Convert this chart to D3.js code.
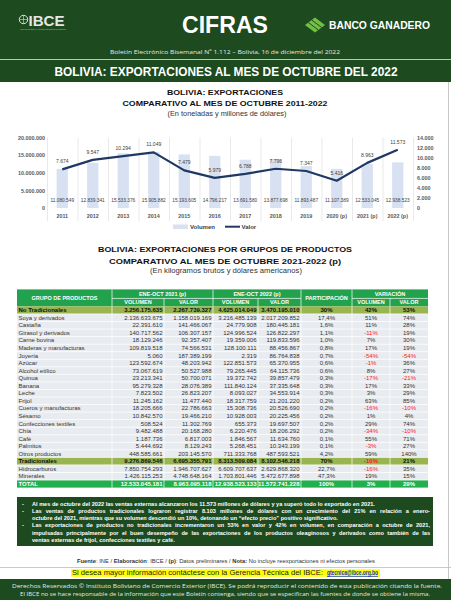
<!DOCTYPE html>
<html><head><meta charset="utf-8">
<script src="https://cdn.jsdelivr.net/npm/d3@7"></script>
<style>
html,body{margin:0;padding:0;background:#fff;}
svg{display:block;font-family:"Liberation Sans",Arial,sans-serif;}
</style></head><body>
<svg id="page" width="451" height="600"></svg>
<script>
// ---------- Chart data ----------
const years = ["2011","2012","2013","2014","2015","2016","2017","2018","2019","2020 (p)","2021 (p)","2022 (p)"];
const volumen = [11080549, 12839341, 15533376, 15905882, 15193605, 14796217, 13691580, 13877698, 11893487, 11107389, 12533045, 12938523];
const valor = [7674, 9547, 10294, 11049, 7479, 5979, 6788, 7796, 7347, 5416, 8963, 11573];
const leftTicks = [0, 5000000, 10000000, 15000000, 20000000];
const rightTicks = [0, 2000, 4000, 6000, 8000, 10000, 12000, 14000];

// ---------- Table data ----------
const productos = ["No Tradicionales","Soya y derivados","Castaña","Girasol y derivados","Carne bovina","Maderas y manufacturas","Joyería","Azúcar","Alcohol etílico","Quinua","Banana","Leche","Frijol","Cueros y manufacturas","Sésamo","Confecciones textiles","Chía","Café","Palmitos","Otros productos","Tradicionales","Hidrocarburos","Minerales","TOTAL"];
const rowType = ["grp","item","item","item","item","item","item","item","item","item","item","item","item","item","item","item","item","item","item","item","grp","item","item","total"];
const vol2021 = [3256175635, 2136633675, 22391610, 140717562, 18129246, 109819518, 5060, 123592674, 73067619, 23213341, 95279328, 7823502, 11245162, 18205666, 10842570, 508524, 9482488, 1187736, 5444692, 448585661, 9276869546, 7850754293, 1426115253, 12533045181];
const val2021 = [2267739327, 1158019169, 141466067, 106307157, 92357407, 74566531, 187389199, 48203942, 50527988, 50700071, 28076389, 26823207, 11477440, 22786663, 19466210, 11302769, 20168280, 6817003, 8129243, 203145570, 6695355791, 1946707627, 4748648164, 8963095118];
const vol2022 = [4625014049, 3216485139, 24779908, 124996524, 19359006, 128100111, 2319, 122851573, 79265445, 19372742, 111840124, 8093027, 18317759, 15308736, 10928003, 655373, 6220476, 1846567, 5268451, 711333768, 8313509084, 6609707637, 1703801446, 12938523133];
const val2022 = [3470195010, 2017209852, 180445181, 126822297, 119833596, 88456867, 86764838, 65370955, 64115736, 39857479, 37335648, 34553914, 21201220, 20526690, 20225456, 19697507, 18206292, 11634760, 10343199, 487593521, 8102546218, 2629868320, 5472677898, 11572741228];
const participacion = [30, 17.4, 1.6, 1.1, 1.0, 0.8, 0.7, 0.6, 0.6, 0.3, 0.3, 0.3, 0.2, 0.2, 0.2, 0.2, 0.2, 0.1, 0.1, 4.2, 70, 22.7, 47.3, 100];
const varVol = [42, 51, 11, -11, 7, 17, -54, -1, 8, -17, 17, 3, 63, -16, 1, 29, -34, 55, -3, 59, -10, -16, 19, 3];
const varVal = [53, 74, 28, 19, 30, 19, -54, 36, 27, -21, 33, 29, 85, -10, 4, 74, -10, 71, 27, 140, 21, 35, 15, 29];

const notes = [
  ["Al mes de octubre del 2022 las ventas externas alcanzaron los 11.573 millones de dólares y ya superó todo lo exportado en 2021."],
  ["Las ventas de productos tradicionales lograron registrar 8.103 millones de dólares con un crecimiento del 21% en relación a enero-",
   "octubre del 2021, mientras que su volumen descendió un 10%, detonando un “efecto precio” positivo significativo."],
  ["Las exportaciones de productos no tradicionales incrementaron un 53% en valor y 42% en volumen, en comparación a octubre de 2021,",
   "impulsadas principalmente por el buen desempeño de las exportaciones de los productos oleaginosos y derivados como también de las",
   "ventas externas de frijol, confecciones textiles y café."]
];

// ---------- Drawing ----------
const loc = d3.formatLocale({decimal: ",", thousands: ".", grouping: [3], currency: ["", ""]});
const fmt = loc.format(",");
const fmt1 = loc.format(",.1f");
const svg = d3.select("#page");
const darkGreen = "#1d4a1f";

function t(parent, x, y, s, o = {}) {
  const e = parent.append("text").attr("x", x).attr("y", y).text(s);
  if (o.size) e.style("font-size", o.size + "px");
  if (o.bold) e.style("font-weight", "bold");
  e.attr("fill", o.fill || "#222");
  if (o.anchor) e.attr("text-anchor", o.anchor);
  if (o.len) e.attr("textLength", o.len).attr("lengthAdjust", "spacingAndGlyphs");
  if (o.family) e.style("font-family", o.family);
  return e;
}

// Header
svg.append("rect").attr("x", 0).attr("y", 0).attr("width", 451).attr("height", 82).attr("fill", darkGreen);
const lg = svg.append("g");
lg.append("circle").attr("cx", 23.5).attr("cy", 19.5).attr("r", 4.2).attr("fill", "none").attr("stroke", "#ddd").attr("stroke-width", 1);
lg.append("path").attr("d", "M19.5 19.5 H27.5 M23.5 15.3 V23.7").attr("stroke", "#ddd").attr("stroke-width", 0.6);
t(lg, 28.5, 26, "IBCE", {size: 15, bold: true, fill: "#e6e6e6", len: 36});
t(lg, 20, 29.6, "INSTITUTO BOLIVIANO DE COMERCIO EXTERIOR", {size: 2, fill: "#bbb", len: 46});
t(svg, 225, 33, "CIFRAS", {size: 23, bold: true, fill: "#fff", anchor: "middle", len: 86});
const bg = svg.append("g");
bg.append("path").attr("d", "M305 25 L315 17.5 L325 25 L315 32.5 Z").attr("fill", "#72bf44");
bg.append("path").attr("d", "M308.3 22.5 L318.3 30 M311.7 20 L321.7 27.5").attr("stroke", darkGreen).attr("stroke-width", 1);
t(bg, 329, 29, "BANCO GANADERO", {size: 10.5, bold: true, fill: "#fff", len: 101});
t(svg, 225, 53.5, "Boletín Electrónico Bisemanal Nº 1.112 – Bolivia, 16 de diciembre del 2022", {size: 6, fill: "#e8e8e8", anchor: "middle", len: 230, family: "'Open Sans',sans-serif"});
svg.append("line").attr("x1", 0).attr("x2", 451).attr("y1", 59.5).attr("y2", 59.5).attr("stroke", "#b9c9b4").attr("stroke-width", 1);
t(svg, 226, 76, "BOLIVIA: EXPORTACIONES AL MES DE OCTUBRE DEL 2022", {size: 12, bold: true, fill: "#fff", anchor: "middle", len: 343});

svg.append("line").attr("x1", 448.5).attr("x2", 448.5).attr("y1", 82).attr("y2", 579).attr("stroke", "#c8c8c8").attr("stroke-width", 1);

// Chart titles
t(svg, 225, 95, "BOLIVIA: EXPORTACIONES", {size: 7.8, bold: true, anchor: "middle", len: 116, fill: "#111"});
t(svg, 225, 105.5, "COMPARATIVO AL MES DE OCTUBRE 2011-2022", {size: 7.8, bold: true, anchor: "middle", len: 205, fill: "#111"});
t(svg, 227, 115.8, "(En toneladas y millones de dólares)", {size: 6.4, anchor: "middle", len: 119, fill: "#333"});

// Chart
const xB = d3.scaleBand().domain(years).range([47, 413]);
const yL = d3.scaleLinear().domain([0, 20000000]).range([208, 137.5]);
const yR = d3.scaleLinear().domain([0, 14000]).range([208, 137.5]);
const ch = svg.append("g");
const bounds = years.map(d => xB(d)).concat([xB.range()[1]]);
ch.selectAll("line.grid").data(bounds).join("line").attr("class", "grid")
  .attr("x1", d => d + 0.5).attr("x2", d => d + 0.5).attr("y1", 137.5).attr("y2", 221)
  .attr("stroke", "#e3e3e3").attr("stroke-width", 0.8);
const barW = xB.bandwidth() * 0.37;
ch.selectAll("rect.bar").data(years).join("rect").attr("class", "bar")
  .attr("x", d => xB(d) + (xB.bandwidth() - barW) / 2).attr("width", barW)
  .attr("y", (d, i) => yL(volumen[i])).attr("height", (d, i) => yL(0) - yL(volumen[i]))
  .attr("fill", "#d7e1f1");
const axL = ch.append("g").attr("transform", "translate(46,0)")
  .call(d3.axisLeft(yL).tickValues(leftTicks).tickFormat(fmt).tickSize(0).tickPadding(1));
const axR = ch.append("g").attr("transform", "translate(414,0)")
  .call(d3.axisRight(yR).tickValues(rightTicks).tickFormat(fmt).tickSize(0).tickPadding(3));
const axB = ch.append("g").attr("transform", "translate(0,208)")
  .call(d3.axisBottom(xB).tickSize(0).tickPadding(6));
[axL, axR, axB].forEach(a => {
  a.select(".domain").remove();
  a.selectAll("text").style("font-size", "5.4px").style("font-weight", "bold").attr("fill", "#595959").style("font-family", "'Liberation Sans',Arial,sans-serif");
});
ch.selectAll("text.vl").data(years).join("text").attr("class", "vl")
  .attr("x", d => xB(d) + xB.bandwidth() / 2).attr("y", 201.8).attr("text-anchor", "middle")
  .style("font-size", "4.8px").attr("fill", "#404040").text((d, i) => fmt(volumen[i]));
const line = d3.line().x((d, i) => xB(years[i]) + xB.bandwidth() / 2).y(d => yR(d));
ch.append("path").datum(valor).attr("d", line).attr("fill", "none").attr("stroke", "#203864").attr("stroke-width", 2.2).attr("stroke-linejoin", "round");
ch.selectAll("text.pl").data(valor).join("text").attr("class", "pl")
  .attr("x", (d, i) => xB(years[i]) + xB.bandwidth() / 2).attr("y", d => yR(d) - 6)
  .attr("text-anchor", "middle").style("font-size", "5px").attr("fill", "#404040").text(d => fmt(d));
ch.append("rect").attr("x", 173).attr("y", 224.5).attr("width", 15).attr("height", 4.5).attr("fill", "#d7e1f1");
t(ch, 190, 228.8, "Volumen", {size: 6, bold: true, fill: "#404040"});
ch.append("line").attr("x1", 225).attr("x2", 240).attr("y1", 226.7).attr("y2", 226.7).attr("stroke", "#203864").attr("stroke-width", 2);
t(ch, 241.5, 228.8, "Valor", {size: 6, bold: true, fill: "#404040"});

// Table titles
t(svg, 225, 251.8, "BOLIVIA:  EXPORTACIONES POR GRUPOS DE PRODUCTOS", {size: 7.8, bold: true, anchor: "middle", len: 254, fill: "#111"});
t(svg, 225, 263.8, "COMPARATIVO AL MES DE OCTUBRE 2021-2022 (p)", {size: 7.8, bold: true, anchor: "middle", len: 232, fill: "#111"});
t(svg, 226, 272.6, "(En kilogramos brutos y dólares americanos)", {size: 6.6, anchor: "middle", len: 152, fill: "#333"});

// Table
const cx = [17, 112, 164, 213, 258, 301, 352, 390, 428];
const tTop = 289.4, h1 = 9, h2 = 8, rowH = 7.55;
const dataTop = tTop + h1 + h2;
const hdrGreen = "#22a24c";
const tb = svg.append("g");
tb.append("rect").attr("x", cx[0]).attr("y", tTop).attr("width", cx[8] - cx[0]).attr("height", h1 + h2).attr("fill", hdrGreen);
const hs = {size: 5.5, bold: true, fill: "#fff", anchor: "middle"};
t(tb, (cx[0] + cx[1]) / 2, tTop + 10.5, "GRUPO DE PRODUCTOS", hs);
t(tb, (cx[1] + cx[3]) / 2, tTop + 6.5, "ENE-OCT 2021 (p)", hs);
t(tb, (cx[3] + cx[5]) / 2, tTop + 6.5, "ENE-OCT 2022 (p)", hs);
t(tb, (cx[5] + cx[6]) / 2, tTop + 10.5, "PARTICIPACIÓN", hs);
t(tb, (cx[6] + cx[8]) / 2, tTop + 6.5, "VARIACIÓN", hs);
[[1, 2], [2, 3], [3, 4], [4, 5], [6, 7], [7, 8]].forEach(([a, b], i) => {
  t(tb, (cx[a] + cx[b]) / 2, tTop + h1 + 6, (i % 2 === 0) ? "VOLUMEN" : "VALOR", hs);
});
const sep = (x1, y1, x2, y2) => tb.append("line").attr("x1", x1).attr("y1", y1).attr("x2", x2).attr("y2", y2).attr("stroke", "#fff").attr("stroke-width", 0.7);
[1, 3, 5, 6].forEach(i => sep(cx[i], tTop, cx[i], tTop + h1 + h2));
[2, 4, 7].forEach(i => sep(cx[i], tTop + h1, cx[i], tTop + h1 + h2));
sep(cx[1], tTop + h1, cx[5], tTop + h1);
sep(cx[6], tTop + h1, cx[8], tTop + h1);

const yRow = d3.scaleBand().domain(d3.range(productos.length)).range([dataTop, dataTop + rowH * productos.length]);
const rowFill = k => rowType[k] === "grp" ? "#98b54f" : rowType[k] === "total" ? "#22b04d" : "#e8ebef";
const rows = tb.selectAll("g.row").data(productos).join("g").attr("class", "row");
rows.append("rect").attr("x", cx[0]).attr("y", (d, i) => yRow(i)).attr("width", cx[8] - cx[0]).attr("height", yRow.bandwidth())
  .attr("fill", (d, i) => rowFill(i));
rows.each(function(d, i) {
  const g = d3.select(this);
  const y = yRow(i) + yRow.bandwidth() / 2 + 2.1;
  const isGrp = rowType[i] !== "item";
  const col = rowType[i] === "total" ? "#fff" : (rowType[i] === "grp" ? "#111" : "#333");
  const o = a => ({size: 6, bold: isGrp, fill: col, anchor: a});
  t(g, cx[0] + 1.5, y, d, o("start"));
  t(g, cx[2] - 1.5, y, fmt(vol2021[i]), o("end"));
  t(g, cx[3] - 1.5, y, fmt(val2021[i]), o("end"));
  t(g, cx[4] - 1.5, y, fmt(vol2022[i]), o("end"));
  t(g, cx[5] - 1.5, y, fmt(val2022[i]), o("end"));
  t(g, (cx[5] + cx[6]) / 2, y, (isGrp ? fmt(participacion[i]) : fmt1(participacion[i])) + "%", o("middle"));
  [varVol[i], varVal[i]].forEach((v, k) => {
    const oo = o("middle");
    if (v < 0 && rowType[i] !== "total") oo.fill = "#ff1a1a";
    t(g, (cx[6 + k] + cx[7 + k]) / 2, y, v + "%", oo);
  });
});
d3.range(1, productos.length).forEach(i => sep(cx[0], yRow(i), cx[8], yRow(i)));
[1, 2, 3, 4, 5, 6, 7].forEach(i => sep(cx[i], dataTop, cx[i], yRow.range()[1]));

// Notes box
const nb = svg.append("g");
nb.append("rect").attr("x", 17).attr("y", 497).attr("width", 416).attr("height", 49).attr("fill", darkGreen);
const noteX0 = 32, noteX1 = 430;
let li = 0;
const lineY = k => 505.5 + k * 7.3;
notes.forEach(par => {
  par.forEach((ln, j) => {
    const y = lineY(li);
    if (j === 0) t(nb, 22, y, "-", {size: 5.6, bold: true, fill: "#fff"});
    const justify = j < par.length - 1;
    if (!justify) {
      t(nb, noteX0, y, ln, {size: 5.6, bold: true, fill: "#fff"});
    } else {
      const words = ln.split(" ");
      const nodes = words.map(w => t(nb, 0, y, w, {size: 5.6, bold: true, fill: "#fff"}));
      const widths = nodes.map(n => n.node().getComputedTextLength());
      const gap = (noteX1 - noteX0 - d3.sum(widths)) / (words.length - 1);
      let x = noteX0;
      nodes.forEach((n, k) => { n.attr("x", x); x += widths[k] + gap; });
    }
    li++;
  });
});

// Source
const src = svg.append("text").attr("x", 226).attr("y", 562.8).attr("text-anchor", "middle")
  .style("font-size", "5.6px").attr("fill", "#333").attr("textLength", 298).attr("lengthAdjust", "spacingAndGlyphs");
[["Fuente", true], [": INE / ", false], ["Elaboración", true], [": IBCE / ", false], ["(p)", true], [": Datos preliminares / ", false], ["Nota:", true], [" No incluye reexportaciones ni efectos personales", false]]
  .forEach(([s, b]) => src.append("tspan").style("font-weight", b ? "bold" : "normal").text(s));
svg.append("line").attr("x1", 0).attr("x2", 451).attr("y1", 567.5).attr("y2", 567.5).attr("stroke", "#bdbdbd").attr("stroke-width", 0.8);
svg.append("rect").attr("x", 71).attr("y", 569.2).attr("width", 309).attr("height", 7.6).attr("fill", "#ffff00");
t(svg, 72, 575.3, "Si desea mayor información contáctese con la Gerencia Técnica del IBCE:", {size: 6.7, fill: "#222", len: 251});
t(svg, 327, 575.3, "gtecnica@ibce.org.bo", {size: 6.7, bold: true, fill: "#0b36d6", len: 51}).style("text-decoration", "underline");

// Footer
svg.append("rect").attr("x", 0).attr("y", 579).attr("width", 451).attr("height", 21).attr("fill", darkGreen);
t(svg, 12, 588.2, "Derechos Reservados © Instituto Boliviano de Comercio Exterior (IBCE). Se podrá reproducir el contenido de esta publicación citando la fuente.", {size: 5.4, fill: "#e8e8e8", len: 430, family: "'Open Sans',sans-serif"});
t(svg, 20, 595.6, "El IBCE no se hace responsable de la información que este Boletín contenga, siendo que se especifican las fuentes de donde se obtiene la misma.", {size: 5, fill: "#e8e8e8", len: 410, family: "'Open Sans',sans-serif"});
</script>
</body></html>
